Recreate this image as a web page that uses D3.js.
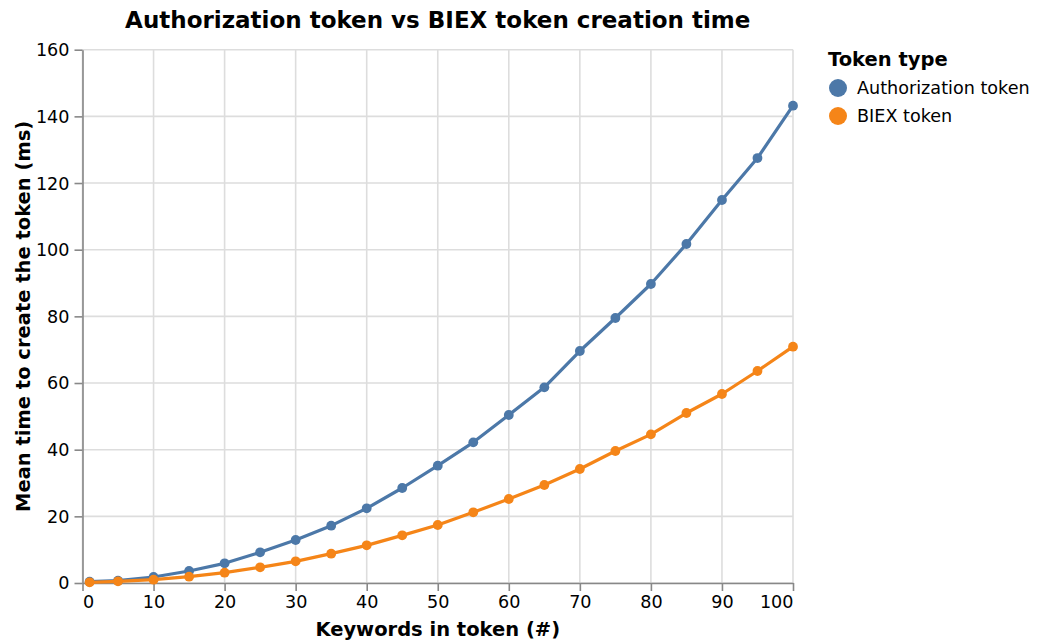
<!DOCTYPE html>
<html>
<head>
<meta charset="utf-8">
<script src="https://cdn.jsdelivr.net/npm/d3@7"></script>
<style>
  body { margin: 0; background: #fff; }
  text { font-family: "DejaVu Sans", sans-serif; fill: #000; }
</style>
</head>
<body>
<div id="chart"></div>
<script>
const keywords = [1, 5, 10, 15, 20, 25, 30, 35, 40, 45, 50, 55, 60, 65, 70, 75, 80, 85, 90, 95, 100];
const authTimes = [0.4, 0.7, 1.8, 3.6, 5.9, 9.2, 12.9, 17.2, 22.4, 28.5, 35.2, 42.2, 50.4, 58.7, 69.6, 79.5, 89.7, 101.7, 114.9, 127.5, 143.2];
const biexTimes = [0.2, 0.5, 1.0, 1.9, 3.1, 4.7, 6.5, 8.8, 11.3, 14.3, 17.4, 21.2, 25.2, 29.4, 34.2, 39.6, 44.6, 51.0, 56.7, 63.6, 70.9];
const seriesNames = ["Authorization token", "BIEX token"];
const xTicks = [0, 10, 20, 30, 40, 50, 60, 70, 80, 90, 100];
const yTicks = [0, 20, 40, 60, 80, 100, 120, 140, 160];

const width = 1047;
const height = 641;
const margin = { top: 49.7, right: 254, bottom: 58, left: 82.5 };
const colors = ["#4c78a8", "#f58518"];

const svg = d3.select("#chart")
  .append("svg")
  .attr("width", width)
  .attr("height", height);

const xScale = d3.scaleLinear()
  .domain([0, 100])
  .range([margin.left, width - margin.right]);

const yScale = d3.scaleLinear()
  .domain([0, 160])
  .range([height - margin.bottom, margin.top]);

const series = [authTimes, biexTimes].map(function(vals, i) {
  return {
    name: seriesNames[i],
    color: colors[i],
    values: keywords.map((k, j) => ({ k: k, v: vals[j] }))
  };
});

// Grid
svg.append("g")
  .selectAll("line")
  .data(xTicks)
  .enter()
  .append("line")
  .attr("x1", d => xScale(d))
  .attr("x2", d => xScale(d))
  .attr("y1", margin.top)
  .attr("y2", height - margin.bottom)
  .attr("stroke", "#ddd")
  .attr("stroke-width", 1.6);

svg.append("g")
  .selectAll("line")
  .data(yTicks)
  .enter()
  .append("line")
  .attr("x1", margin.left)
  .attr("x2", width - margin.right)
  .attr("y1", d => yScale(d))
  .attr("y2", d => yScale(d))
  .attr("stroke", "#ddd")
  .attr("stroke-width", 1.6);

// X axis
const xAxis = svg.append("g")
  .attr("transform", `translate(0, ${height - margin.bottom})`)
  .call(d3.axisBottom(xScale).tickValues(xTicks).tickSize(8).tickPadding(5).tickSizeOuter(0));

// Y axis
const yAxis = svg.append("g")
  .attr("transform", `translate(${margin.left}, 0)`)
  .call(d3.axisLeft(yScale).tickValues(yTicks).tickSize(8).tickPadding(5).tickSizeOuter(0));

[xAxis, yAxis].forEach(function(ax) {
  ax.select(".domain").attr("stroke", "#888").attr("stroke-width", 1.6);
  ax.selectAll(".tick line").attr("stroke", "#888").attr("stroke-width", 1.6);
  ax.selectAll(".tick text")
    .style("font-family", "DejaVu Sans, sans-serif")
    .style("font-size", "17.6px")
    .attr("fill", "#000");
});

// flush first/last x labels like the original
xAxis.selectAll(".tick text")
  .attr("text-anchor", d => d === 0 ? "start" : (d === 100 ? "end" : "middle"));
yAxis.selectAll(".tick text").attr("dy", "0.34em");

// Lines and points
const line = d3.line()
  .x(d => xScale(d.k))
  .y(d => yScale(d.v));

series.forEach(function(s) {
  svg.append("path")
    .datum(s.values)
    .attr("fill", "none")
    .attr("stroke", s.color)
    .attr("stroke-width", 3.2)
    .attr("stroke-linejoin", "round")
    .attr("d", line);

  svg.append("g")
    .selectAll("circle")
    .data(s.values)
    .enter()
    .append("circle")
    .attr("cx", d => xScale(d.k))
    .attr("cy", d => yScale(d.v))
    .attr("r", 4.9)
    .attr("fill", s.color);
});

// Title
svg.append("text")
  .attr("x", (margin.left + width - margin.right) / 2)
  .attr("y", 28)
  .attr("text-anchor", "middle")
  .style("font-size", "23px")
  .style("font-weight", "bold")
  .text("Authorization token vs BIEX token creation time");

// Axis titles
svg.append("text")
  .attr("x", (margin.left + width - margin.right) / 2)
  .attr("y", 636)
  .attr("text-anchor", "middle")
  .style("font-size", "19.5px")
  .style("font-weight", "bold")
  .text("Keywords in token (#)");

svg.append("text")
  .attr("transform", `translate(30, ${(margin.top + height - margin.bottom) / 2}) rotate(-90)`)
  .attr("text-anchor", "middle")
  .style("font-size", "19.5px")
  .style("font-weight", "bold")
  .text("Mean time to create the token (ms)");

// Legend
svg.append("text")
  .attr("x", 828)
  .attr("y", 66)
  .style("font-size", "19.5px")
  .style("font-weight", "bold")
  .text("Token type");

const legend = svg.append("g")
  .selectAll("g")
  .data(series)
  .enter()
  .append("g")
  .attr("transform", (d, i) => `translate(838, ${88 + i * 28})`);

legend.append("circle")
  .attr("r", 9)
  .attr("fill", d => d.color);

legend.append("text")
  .attr("x", 19)
  .attr("y", 6)
  .style("font-size", "17.6px")
  .text(d => d.name);
</script>
</body>
</html>
